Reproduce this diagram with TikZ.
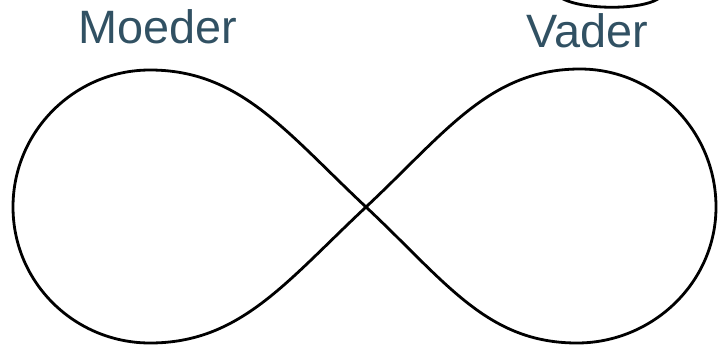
\documentclass[tikz,border=0pt]{standalone}
\usepackage{fontspec}
\setmainfont{Liberation Sans}
\definecolor{lbl}{RGB}{49,81,99}
\begin{document}
\begin{tikzpicture}[x=1bp,y=1bp,
  curve/.style={line width=2.8bp,black},
  lab/.style={text=lbl,font=\fontsize{47}{50}\selectfont,anchor=base,inner sep=0pt}]
\useasboundingbox (0,0) rectangle (718,348);
\coordinate (C) at (366,141);
\draw[curve] (C) .. controls (446,216) and (490,279) .. (580,279)
  .. controls (655,279) and (716,217) .. (716,141)
  .. controls (716,65) and (652,5) .. (577,5)
  .. controls (487,5) and (446,66) .. (C)
  .. controls (286,216) and (240,278) .. (150,278)
  .. controls (75,278) and (13,217) .. (13,141)
  .. controls (13,65) and (75,5) .. (150,5)
  .. controls (240,5) and (286,66) .. (C);
\draw[curve] (563,349) .. controls (585,338) and (640,338) .. (658,349);
\node[lab] (moeder) at (158,305) {Moeder};
\node[lab] (vader) at (587,301) {Vader};
\end{tikzpicture}
\end{document}
